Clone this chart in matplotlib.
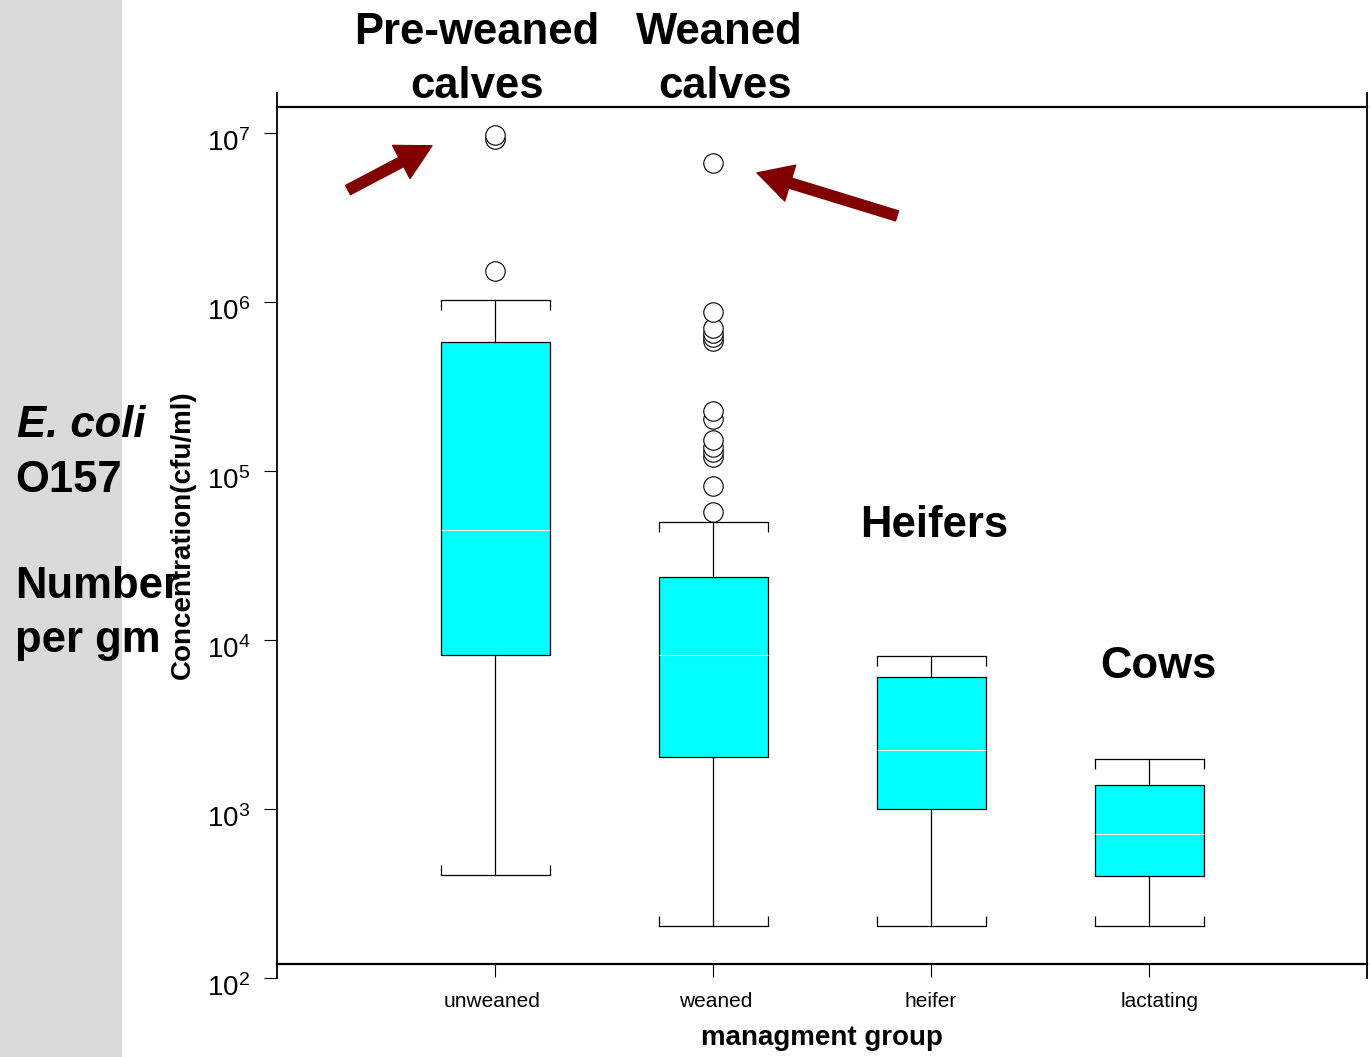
import matplotlib
matplotlib.use("Agg")
import matplotlib.pyplot as plt
from matplotlib.patches import Rectangle
from matplotlib.markers import TICKDOWN, TICKUP
from matplotlib.transforms import ScaledTranslation

plt.rcParams['font.family'] = ['Liberation Sans', 'DejaVu Sans']
plt.rcParams['mathtext.fontset'] = 'custom'
plt.rcParams['mathtext.rm'] = 'Liberation Sans'
plt.rcParams['mathtext.it'] = 'Liberation Sans:italic'
plt.rcParams['mathtext.bf'] = 'Liberation Sans:bold'

# ---------------- data ----------------
groups = ["unweaned", "weaned", "heifer", "lactating"]
whisker_low = [408, 203, 203, 203]
q1 = [8100, 2020, 1000, 401]
median = [44800, 8100, 2220, 711]
q3 = [580000, 23600, 6000, 1390]
whisker_high = [1030000, 50000, 8000, 1980]
fliers_unweaned = [1.53e6, 9.25e6, 9.77e6]
fliers_weaned = [5.73e4, 8.17e4, 1.21e5, 1.30e5, 1.39e5, 1.53e5, 2.03e5, 2.27e5,
                 5.89e5, 6.22e5, 6.57e5, 7.03e5, 8.75e5, 6.67e6]
fliers_heifer = []
fliers_lactating = []
yticks = [1e2, 1e3, 1e4, 1e5, 1e6, 1e7]
# annotation arrows: (tail_x, tail_y) -> (head_x, head_y) in data units
arrow1_tail = (0.326, 4.61e6)
arrow1_head = (0.711, 8.42e6)
arrow2_tail = (2.844, 3.24e6)
arrow2_head = (2.202, 5.82e6)

W, H = 1371, 1057
fig = plt.figure(figsize=(W / 100, H / 100), dpi=100)
fig.patch.set_facecolor('white')

# textured left strip (flat approximation)
fig.patches.append(Rectangle((0, 0), 122 / W, 1, transform=fig.transFigure,
                             facecolor='#dadada', edgecolor='none', zorder=0))

ax = fig.add_axes([277 / W, 1 - 977.7 / H, (1367 - 277) / W, (977.7 - 93) / H])
ax.set_facecolor('none')
ax.set_yscale('log')
ax.set_xlim(0, 5)
ax.set_ylim(1e2, 10 ** 7.238)

stats = []
fl_all = [fliers_unweaned, fliers_weaned, fliers_heifer, fliers_lactating]
for i, g in enumerate(groups):
    stats.append(dict(label=g, whislo=whisker_low[i], q1=q1[i], med=median[i],
                      q3=q3[i], whishi=whisker_high[i], fliers=fl_all[i]))

positions = [1, 2, 3, 4]
bp = ax.bxp(stats, positions=positions, widths=0.5, capwidths=0.5,
            patch_artist=True, showfliers=True,
            boxprops=dict(facecolor='#00ffff', edgecolor='black', linewidth=0.9),
            medianprops=dict(color='white', linewidth=0.8),
            whiskerprops=dict(color='black', linewidth=0.9),
            capprops=dict(color='black', linewidth=0.9),
            flierprops=dict(marker='o', markersize=14, markerfacecolor='white',
                            markeredgecolor='black', markeredgewidth=0.8))

# small bracket ends on the caps
for i, p in enumerate(positions):
    ax.plot([p - 0.25, p + 0.25], [whisker_high[i]] * 2, linestyle='none',
            marker=TICKDOWN, markersize=7, markeredgewidth=0.9, color='black')
    ax.plot([p - 0.25, p + 0.25], [whisker_low[i]] * 2, linestyle='none',
            marker=TICKUP, markersize=7, markeredgewidth=0.9, color='black')

# spines
ax.spines['top'].set_position(('data', 10 ** 7.1575))
ax.spines['bottom'].set_position(('data', 10 ** 2.081))
for s in ['top', 'bottom']:
    ax.spines[s].set_linewidth(1.6)
for s in ['left', 'right']:
    ax.spines[s].set_linewidth(1.3)

ax.set_yticks(yticks)
ax.yaxis.set_minor_locator(matplotlib.ticker.NullLocator())
ax.tick_params(axis='y', which='major', length=9.4, width=0.8, pad=10,
               labelsize=20, direction='out')
ax.set_xticks(positions)
ax.set_xticklabels(groups)
ax.tick_params(axis='x', which='major', length=9.4, width=0.8, pad=11,
               labelsize=15, direction='out')

# arrows
for tail, head in [(arrow1_tail, arrow1_head), (arrow2_tail, arrow2_head)]:
    ax.annotate('', xy=head, xytext=tail, xycoords='data', textcoords='data',
                arrowprops=dict(arrowstyle='simple,head_length=2.5,head_width=2.7,tail_width=0.75',
                                mutation_scale=10, color='#800000', shrinkA=0, shrinkB=0),
                annotation_clip=False)

# axis labels
fig.text(822 / W, 1 - 1045 / H, 'managment group', ha='center', va='baseline',
         fontsize=20, fontweight='bold')
fig.text(183 / W, 1 - 535 / H, 'Concentration(cfu/ml)', ha='center', va='center',
         rotation=90, fontsize=20, fontweight='bold')

big = 31.4
def t(x, y, s, ha='center', style='normal'):
    fig.text(x / W, 1 - y / H, s, ha=ha, va='baseline', fontsize=big,
             fontweight='bold', fontstyle=style)

t(477, 44, 'Pre-weaned')
t(477, 98, 'calves')
t(719.5, 44, 'Weaned')
t(725, 98, 'calves')
t(934, 537, 'Heifers')
t(1158, 678, 'Cows')
t(17, 437, 'E. coli', ha='left', style='italic')
t(15, 492, 'O157', ha='left')
t(15, 598, 'Number', ha='left')
t(15, 652, 'per gm', ha='left')

# fine label offsets (pixels at dpi 100)
fig.canvas.draw()
for lab in ax.get_yticklabels():
    lab.set_transform(lab.get_transform() + ScaledTranslation(0, -7 / 100, fig.dpi_scale_trans))
x_shift = [-3, 3, 0, 11]
for lab, dx in zip(ax.get_xticklabels(), x_shift):
    lab.set_transform(lab.get_transform() + ScaledTranslation(dx / 100, 0, fig.dpi_scale_trans))

fig.savefig('out.png', dpi=100)
